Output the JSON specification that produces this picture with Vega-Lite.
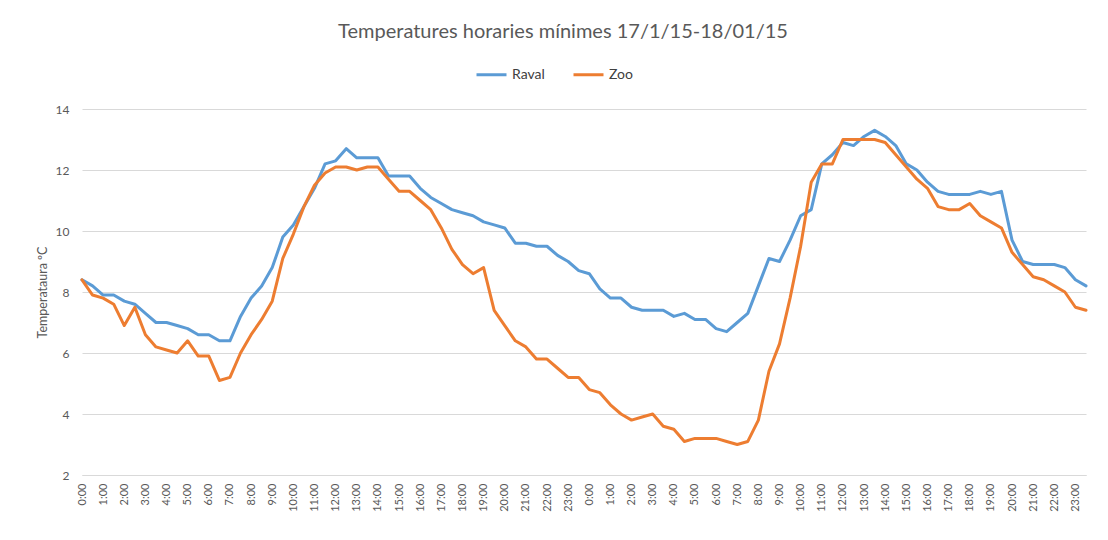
{
  "$schema": "https://vega.github.io/schema/vega-lite/v6.json",
  "width": 1004,
  "height": 366,
  "autosize": {"type": "none"},
  "padding": {"left": 82, "top": 109, "right": 22, "bottom": 65},
  "background": "white",
  "config": {"view": {"stroke": null}, "font": "Lato"},
  "title": {
    "text": "Temperatures horaries mínimes 17/1/15-18/01/15",
    "font": "Lato",
    "fontSize": 20,
    "fontWeight": "normal",
    "color": "#595959",
    "anchor": "middle",
    "dx": -21,
    "offset": 16
  },
  "data": {
    "format": {"parse": {"t": "date:'%Y-%m-%dT%H:%M'"}},
    "values": [
      {"t":"2015-01-17T00:00","s":"Raval","v":8.4},{"t":"2015-01-17T00:30","s":"Raval","v":8.2},{"t":"2015-01-17T01:00","s":"Raval","v":7.9},{"t":"2015-01-17T01:30","s":"Raval","v":7.9},
      {"t":"2015-01-17T02:00","s":"Raval","v":7.7},{"t":"2015-01-17T02:30","s":"Raval","v":7.6},{"t":"2015-01-17T03:00","s":"Raval","v":7.3},{"t":"2015-01-17T03:30","s":"Raval","v":7.0},
      {"t":"2015-01-17T04:00","s":"Raval","v":7.0},{"t":"2015-01-17T04:30","s":"Raval","v":6.9},{"t":"2015-01-17T05:00","s":"Raval","v":6.8},{"t":"2015-01-17T05:30","s":"Raval","v":6.6},
      {"t":"2015-01-17T06:00","s":"Raval","v":6.6},{"t":"2015-01-17T06:30","s":"Raval","v":6.4},{"t":"2015-01-17T07:00","s":"Raval","v":6.4},{"t":"2015-01-17T07:30","s":"Raval","v":7.2},
      {"t":"2015-01-17T08:00","s":"Raval","v":7.8},{"t":"2015-01-17T08:30","s":"Raval","v":8.2},{"t":"2015-01-17T09:00","s":"Raval","v":8.8},{"t":"2015-01-17T09:30","s":"Raval","v":9.8},
      {"t":"2015-01-17T10:00","s":"Raval","v":10.2},{"t":"2015-01-17T10:30","s":"Raval","v":10.8},{"t":"2015-01-17T11:00","s":"Raval","v":11.4},{"t":"2015-01-17T11:30","s":"Raval","v":12.2},
      {"t":"2015-01-17T12:00","s":"Raval","v":12.3},{"t":"2015-01-17T12:30","s":"Raval","v":12.7},{"t":"2015-01-17T13:00","s":"Raval","v":12.4},{"t":"2015-01-17T13:30","s":"Raval","v":12.4},
      {"t":"2015-01-17T14:00","s":"Raval","v":12.4},{"t":"2015-01-17T14:30","s":"Raval","v":11.8},{"t":"2015-01-17T15:00","s":"Raval","v":11.8},{"t":"2015-01-17T15:30","s":"Raval","v":11.8},
      {"t":"2015-01-17T16:00","s":"Raval","v":11.4},{"t":"2015-01-17T16:30","s":"Raval","v":11.1},{"t":"2015-01-17T17:00","s":"Raval","v":10.9},{"t":"2015-01-17T17:30","s":"Raval","v":10.7},
      {"t":"2015-01-17T18:00","s":"Raval","v":10.6},{"t":"2015-01-17T18:30","s":"Raval","v":10.5},{"t":"2015-01-17T19:00","s":"Raval","v":10.3},{"t":"2015-01-17T19:30","s":"Raval","v":10.2},
      {"t":"2015-01-17T20:00","s":"Raval","v":10.1},{"t":"2015-01-17T20:30","s":"Raval","v":9.6},{"t":"2015-01-17T21:00","s":"Raval","v":9.6},{"t":"2015-01-17T21:30","s":"Raval","v":9.5},
      {"t":"2015-01-17T22:00","s":"Raval","v":9.5},{"t":"2015-01-17T22:30","s":"Raval","v":9.2},{"t":"2015-01-17T23:00","s":"Raval","v":9.0},{"t":"2015-01-17T23:30","s":"Raval","v":8.7},
      {"t":"2015-01-18T00:00","s":"Raval","v":8.6},{"t":"2015-01-18T00:30","s":"Raval","v":8.1},{"t":"2015-01-18T01:00","s":"Raval","v":7.8},{"t":"2015-01-18T01:30","s":"Raval","v":7.8},
      {"t":"2015-01-18T02:00","s":"Raval","v":7.5},{"t":"2015-01-18T02:30","s":"Raval","v":7.4},{"t":"2015-01-18T03:00","s":"Raval","v":7.4},{"t":"2015-01-18T03:30","s":"Raval","v":7.4},
      {"t":"2015-01-18T04:00","s":"Raval","v":7.2},{"t":"2015-01-18T04:30","s":"Raval","v":7.3},{"t":"2015-01-18T05:00","s":"Raval","v":7.1},{"t":"2015-01-18T05:30","s":"Raval","v":7.1},
      {"t":"2015-01-18T06:00","s":"Raval","v":6.8},{"t":"2015-01-18T06:30","s":"Raval","v":6.7},{"t":"2015-01-18T07:00","s":"Raval","v":7.0},{"t":"2015-01-18T07:30","s":"Raval","v":7.3},
      {"t":"2015-01-18T08:00","s":"Raval","v":8.2},{"t":"2015-01-18T08:30","s":"Raval","v":9.1},{"t":"2015-01-18T09:00","s":"Raval","v":9.0},{"t":"2015-01-18T09:30","s":"Raval","v":9.7},
      {"t":"2015-01-18T10:00","s":"Raval","v":10.5},{"t":"2015-01-18T10:30","s":"Raval","v":10.7},{"t":"2015-01-18T11:00","s":"Raval","v":12.2},{"t":"2015-01-18T11:30","s":"Raval","v":12.5},
      {"t":"2015-01-18T12:00","s":"Raval","v":12.9},{"t":"2015-01-18T12:30","s":"Raval","v":12.8},{"t":"2015-01-18T13:00","s":"Raval","v":13.1},{"t":"2015-01-18T13:30","s":"Raval","v":13.3},
      {"t":"2015-01-18T14:00","s":"Raval","v":13.1},{"t":"2015-01-18T14:30","s":"Raval","v":12.8},{"t":"2015-01-18T15:00","s":"Raval","v":12.2},{"t":"2015-01-18T15:30","s":"Raval","v":12.0},
      {"t":"2015-01-18T16:00","s":"Raval","v":11.6},{"t":"2015-01-18T16:30","s":"Raval","v":11.3},{"t":"2015-01-18T17:00","s":"Raval","v":11.2},{"t":"2015-01-18T17:30","s":"Raval","v":11.2},
      {"t":"2015-01-18T18:00","s":"Raval","v":11.2},{"t":"2015-01-18T18:30","s":"Raval","v":11.3},{"t":"2015-01-18T19:00","s":"Raval","v":11.2},{"t":"2015-01-18T19:30","s":"Raval","v":11.3},
      {"t":"2015-01-18T20:00","s":"Raval","v":9.7},{"t":"2015-01-18T20:30","s":"Raval","v":9.0},{"t":"2015-01-18T21:00","s":"Raval","v":8.9},{"t":"2015-01-18T21:30","s":"Raval","v":8.9},
      {"t":"2015-01-18T22:00","s":"Raval","v":8.9},{"t":"2015-01-18T22:30","s":"Raval","v":8.8},{"t":"2015-01-18T23:00","s":"Raval","v":8.4},{"t":"2015-01-18T23:30","s":"Raval","v":8.2},
      {"t":"2015-01-17T00:00","s":"Zoo","v":8.4},{"t":"2015-01-17T00:30","s":"Zoo","v":7.9},{"t":"2015-01-17T01:00","s":"Zoo","v":7.8},{"t":"2015-01-17T01:30","s":"Zoo","v":7.6},
      {"t":"2015-01-17T02:00","s":"Zoo","v":6.9},{"t":"2015-01-17T02:30","s":"Zoo","v":7.5},{"t":"2015-01-17T03:00","s":"Zoo","v":6.6},{"t":"2015-01-17T03:30","s":"Zoo","v":6.2},
      {"t":"2015-01-17T04:00","s":"Zoo","v":6.1},{"t":"2015-01-17T04:30","s":"Zoo","v":6.0},{"t":"2015-01-17T05:00","s":"Zoo","v":6.4},{"t":"2015-01-17T05:30","s":"Zoo","v":5.9},
      {"t":"2015-01-17T06:00","s":"Zoo","v":5.9},{"t":"2015-01-17T06:30","s":"Zoo","v":5.1},{"t":"2015-01-17T07:00","s":"Zoo","v":5.2},{"t":"2015-01-17T07:30","s":"Zoo","v":6.0},
      {"t":"2015-01-17T08:00","s":"Zoo","v":6.6},{"t":"2015-01-17T08:30","s":"Zoo","v":7.1},{"t":"2015-01-17T09:00","s":"Zoo","v":7.7},{"t":"2015-01-17T09:30","s":"Zoo","v":9.1},
      {"t":"2015-01-17T10:00","s":"Zoo","v":9.9},{"t":"2015-01-17T10:30","s":"Zoo","v":10.8},{"t":"2015-01-17T11:00","s":"Zoo","v":11.5},{"t":"2015-01-17T11:30","s":"Zoo","v":11.9},
      {"t":"2015-01-17T12:00","s":"Zoo","v":12.1},{"t":"2015-01-17T12:30","s":"Zoo","v":12.1},{"t":"2015-01-17T13:00","s":"Zoo","v":12.0},{"t":"2015-01-17T13:30","s":"Zoo","v":12.1},
      {"t":"2015-01-17T14:00","s":"Zoo","v":12.1},{"t":"2015-01-17T14:30","s":"Zoo","v":11.7},{"t":"2015-01-17T15:00","s":"Zoo","v":11.3},{"t":"2015-01-17T15:30","s":"Zoo","v":11.3},
      {"t":"2015-01-17T16:00","s":"Zoo","v":11.0},{"t":"2015-01-17T16:30","s":"Zoo","v":10.7},{"t":"2015-01-17T17:00","s":"Zoo","v":10.1},{"t":"2015-01-17T17:30","s":"Zoo","v":9.4},
      {"t":"2015-01-17T18:00","s":"Zoo","v":8.9},{"t":"2015-01-17T18:30","s":"Zoo","v":8.6},{"t":"2015-01-17T19:00","s":"Zoo","v":8.8},{"t":"2015-01-17T19:30","s":"Zoo","v":7.4},
      {"t":"2015-01-17T20:00","s":"Zoo","v":6.9},{"t":"2015-01-17T20:30","s":"Zoo","v":6.4},{"t":"2015-01-17T21:00","s":"Zoo","v":6.2},{"t":"2015-01-17T21:30","s":"Zoo","v":5.8},
      {"t":"2015-01-17T22:00","s":"Zoo","v":5.8},{"t":"2015-01-17T22:30","s":"Zoo","v":5.5},{"t":"2015-01-17T23:00","s":"Zoo","v":5.2},{"t":"2015-01-17T23:30","s":"Zoo","v":5.2},
      {"t":"2015-01-18T00:00","s":"Zoo","v":4.8},{"t":"2015-01-18T00:30","s":"Zoo","v":4.7},{"t":"2015-01-18T01:00","s":"Zoo","v":4.3},{"t":"2015-01-18T01:30","s":"Zoo","v":4.0},
      {"t":"2015-01-18T02:00","s":"Zoo","v":3.8},{"t":"2015-01-18T02:30","s":"Zoo","v":3.9},{"t":"2015-01-18T03:00","s":"Zoo","v":4.0},{"t":"2015-01-18T03:30","s":"Zoo","v":3.6},
      {"t":"2015-01-18T04:00","s":"Zoo","v":3.5},{"t":"2015-01-18T04:30","s":"Zoo","v":3.1},{"t":"2015-01-18T05:00","s":"Zoo","v":3.2},{"t":"2015-01-18T05:30","s":"Zoo","v":3.2},
      {"t":"2015-01-18T06:00","s":"Zoo","v":3.2},{"t":"2015-01-18T06:30","s":"Zoo","v":3.1},{"t":"2015-01-18T07:00","s":"Zoo","v":3.0},{"t":"2015-01-18T07:30","s":"Zoo","v":3.1},
      {"t":"2015-01-18T08:00","s":"Zoo","v":3.8},{"t":"2015-01-18T08:30","s":"Zoo","v":5.4},{"t":"2015-01-18T09:00","s":"Zoo","v":6.3},{"t":"2015-01-18T09:30","s":"Zoo","v":7.8},
      {"t":"2015-01-18T10:00","s":"Zoo","v":9.5},{"t":"2015-01-18T10:30","s":"Zoo","v":11.6},{"t":"2015-01-18T11:00","s":"Zoo","v":12.2},{"t":"2015-01-18T11:30","s":"Zoo","v":12.2},
      {"t":"2015-01-18T12:00","s":"Zoo","v":13.0},{"t":"2015-01-18T12:30","s":"Zoo","v":13.0},{"t":"2015-01-18T13:00","s":"Zoo","v":13.0},{"t":"2015-01-18T13:30","s":"Zoo","v":13.0},
      {"t":"2015-01-18T14:00","s":"Zoo","v":12.9},{"t":"2015-01-18T14:30","s":"Zoo","v":12.5},{"t":"2015-01-18T15:00","s":"Zoo","v":12.1},{"t":"2015-01-18T15:30","s":"Zoo","v":11.7},
      {"t":"2015-01-18T16:00","s":"Zoo","v":11.4},{"t":"2015-01-18T16:30","s":"Zoo","v":10.8},{"t":"2015-01-18T17:00","s":"Zoo","v":10.7},{"t":"2015-01-18T17:30","s":"Zoo","v":10.7},
      {"t":"2015-01-18T18:00","s":"Zoo","v":10.9},{"t":"2015-01-18T18:30","s":"Zoo","v":10.5},{"t":"2015-01-18T19:00","s":"Zoo","v":10.3},{"t":"2015-01-18T19:30","s":"Zoo","v":10.1},
      {"t":"2015-01-18T20:00","s":"Zoo","v":9.3},{"t":"2015-01-18T20:30","s":"Zoo","v":8.9},{"t":"2015-01-18T21:00","s":"Zoo","v":8.5},{"t":"2015-01-18T21:30","s":"Zoo","v":8.4},
      {"t":"2015-01-18T22:00","s":"Zoo","v":8.2},{"t":"2015-01-18T22:30","s":"Zoo","v":8.0},{"t":"2015-01-18T23:00","s":"Zoo","v":7.5},{"t":"2015-01-18T23:30","s":"Zoo","v":7.4}
    ]
  },
  "mark": {"type": "line", "strokeWidth": 3, "strokeJoin": "round", "strokeCap": "round"},
  "encoding": {
    "x": {
      "field": "t",
      "type": "temporal",
      "scale": {"nice": false},
      "axis": {
        "title": null,
        "format": "%-H:%M",
        "tickCount": 48,
        "labelAngle": -90,
        "labelFont": "Lato",
        "labelFontSize": 11,
        "labelColor": "#595959",
        "labelPadding": 8,
        "labelOverlap": false,
        "labelFlush": false,
        "ticks": false,
        "grid": false,
        "domain": true,
        "domainColor": "#d9d9d9",
        "domainWidth": 1
      }
    },
    "y": {
      "field": "v",
      "type": "quantitative",
      "scale": {"domain": [2, 14], "nice": false, "zero": false},
      "axis": {
        "title": "Temperataura ºC",
        "titleFont": "Lato",
        "titleFontSize": 12.5,
        "titleFontWeight": "normal",
        "titleColor": "#595959",
        "titlePadding": 6,
        "values": [2, 4, 6, 8, 10, 12, 14],
        "labelFont": "Lato",
        "labelFontSize": 12,
        "labelColor": "#595959",
        "labelPadding": 13,
        "ticks": false,
        "domain": false,
        "grid": true,
        "gridColor": "#d9d9d9",
        "gridWidth": 1
      }
    },
    "color": {
      "field": "s",
      "type": "nominal",
      "scale": {"domain": ["Raval", "Zoo"], "range": ["#5B9BD5", "#ED7D31"]},
      "legend": {
        "title": null,
        "orient": "none",
        "direction": "horizontal",
        "legendX": 393,
        "legendY": -51,
        "symbolType": "stroke",
        "symbolSize": 900,
        "symbolStrokeWidth": 3,
        "labelFont": "Lato",
        "labelFontSize": 14,
        "labelColor": "#404040",
        "columnPadding": 22,
        "labelOffset": 4
      }
    }
  }
}
